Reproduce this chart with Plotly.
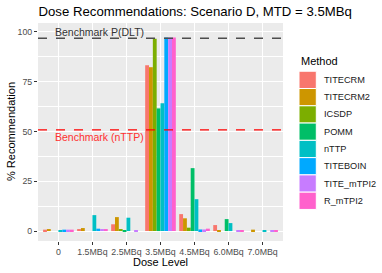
import plotly.graph_objects as go

doses = ["0", "1.5MBq", "2.5MBq", "3.5MBq", "4.5MBq", "6.0MBq", "7.0MBq"]
methods = ["TITECRM", "TITECRM2", "ICSDP", "POMM", "nTTP", "TITEBOIN", "TITE_mTPI2", "R_mTPI2"]
titecrm = [0.7, 1.0, 3.4, 83.3, 8.5, 3.0, 0.0]
titecrm2 = [1.0, 1.5, 7.0, 82.3, 6.4, 0.5, 0.7]
icsdp = [0.0, 0.0, 1.0, 96.6, 1.7, 0.0, 0.0]
pomm = [0.0, 0.0, 0.2, 61.6, 31.6, 6.0, 0.0]
nttp = [0.3, 8.0, 6.7, 64.2, 16.0, 4.0, 0.5]
titeboin = [0.7, 1.2, 0.0, 97.2, 0.8, 0.0, 0.0]
tite_mtpi2 = [0.7, 1.0, 0.5, 97.2, 0.8, 0.3, 0.2]
r_mtpi2 = [0.7, 1.0, 0.0, 97.2, 1.2, 0.3, 0.2]
series = [titecrm, titecrm2, icsdp, pomm, nttp, titeboin, tite_mtpi2, r_mtpi2]
colors = ["#F8766D", "#CD9600", "#7CAE00", "#00BE67", "#00BFC4", "#00A9FF", "#C77CFF", "#FF61CC"]
bench_dlt = 96.9
bench_nttp = 50.8

W, H = 382, 273
PL, PR, PT, PB = 38, 283, 22.7, 241.0
FONT = "Liberation Sans, Arial, sans-serif"

def px_x(px):
    return (px - PL) / (PR - PL)

def px_y(py):
    return (PB - py) / (PB - PT)

fig = go.Figure()
for name, vals, col in zip(methods, series, colors):
    fig.add_trace(go.Bar(x=doses, y=vals, name=name, marker=dict(color=col, line=dict(width=0)),
                         showlegend=False, hoverinfo="skip"))

shapes = [
    dict(type="line", xref="paper", yref="y", x0=0, x1=1, y0=bench_dlt, y1=bench_dlt,
         line=dict(color="#4D4D4D", width=1.5, dash="dash")),
    dict(type="line", xref="paper", yref="y", x0=0, x1=1, y0=bench_nttp, y1=bench_nttp,
         line=dict(color="red", width=1.1, dash="dash")),
]

annotations = [
    dict(text="Benchmark P(DLT)", xref="paper", yref="y", x=px_x(53), y=bench_dlt, xanchor="left",
         yanchor="bottom", yshift=-2, showarrow=False, font=dict(family=FONT, size=10.5, color="#333333")),
    dict(text="Benchmark (nTTP)", xref="paper", yref="y", x=px_x(53), y=bench_nttp, xanchor="left",
         yanchor="top", yshift=1, showarrow=False, font=dict(family=FONT, size=10.5, color="#FF3030")),
    dict(text="Dose Level", xref="paper", yref="paper", x=0.5, y=px_y(262), xanchor="center",
         yanchor="middle", showarrow=False, font=dict(family=FONT, size=11, color="black")),
    dict(text="% Recommendation", xref="paper", yref="paper", x=px_x(11), y=0.5, xanchor="center",
         yanchor="middle", textangle=-90, showarrow=False, font=dict(family=FONT, size=11, color="black")),
    dict(text="Method", xref="paper", yref="paper", x=px_x(298.5), y=px_y(60.7), xanchor="left",
         yanchor="middle", showarrow=False, font=dict(family=FONT, size=11, color="black")),
]

key_h = 17.3
for i, (name, col) in enumerate(zip(methods, colors)):
    top = 71.0 + i * key_h
    shapes.append(dict(type="rect", xref="paper", yref="paper", x0=px_x(299), x1=px_x(316.3),
                       y0=px_y(top + key_h), y1=px_y(top), fillcolor=col,
                       line=dict(color="white", width=1)))
    annotations.append(dict(text=name, xref="paper", yref="paper", x=px_x(321.5), y=px_y(top + key_h / 2),
                            xanchor="left", yanchor="middle", showarrow=False,
                            font=dict(family=FONT, size=9.2, color="#1A1A1A")))

fig.update_layout(
    width=W, height=H,
    margin=dict(l=PL, r=W - PR, t=PT, b=H - PB, pad=0),
    paper_bgcolor="white", plot_bgcolor="#EBEBEB",
    barmode="group", bargap=0.1, bargroupgap=0,
    title=dict(text="Dose Recommendations: Scenario D, MTD = 3.5MBq", x=px_x(38.5), xref="paper",
               xanchor="left", y=1 - 11 / H, yref="container", yanchor="middle",
               font=dict(family=FONT, size=13.2, color="black")),
    font=dict(family=FONT),
    annotations=annotations,
    shapes=shapes,
    showlegend=False,
)
fig.update_xaxes(type="category", showgrid=True, gridcolor="white", gridwidth=1.1,
                 ticks="outside", ticklen=3, tickwidth=1.1, tickcolor="#333333",
                 tickfont=dict(family=FONT, size=8.8, color="#4D4D4D"), zeroline=False,
                 showline=False, range=[-0.6, 6.6], automargin=False, ticklabelstandoff=-1)
fig.update_yaxes(range=[-5.0, 104.5], tickvals=[0, 25, 50, 75, 100], showgrid=True,
                 gridcolor="white", gridwidth=1.1, ticks="outside", ticklen=3, tickwidth=1.1,
                 tickcolor="#333333", tickfont=dict(family=FONT, size=8.8, color="#4D4D4D"),
                 zeroline=False, showline=False, automargin=False,
                 minor=dict(tickvals=[12.5, 37.5, 62.5, 87.5], showgrid=True, gridcolor="white",
                            gridwidth=0.55, ticks=""))

fig.write_html("out.html", config={"displayModeBar": False},
               post_script="document.body.style.margin='0';document.body.style.overflow='hidden';")
